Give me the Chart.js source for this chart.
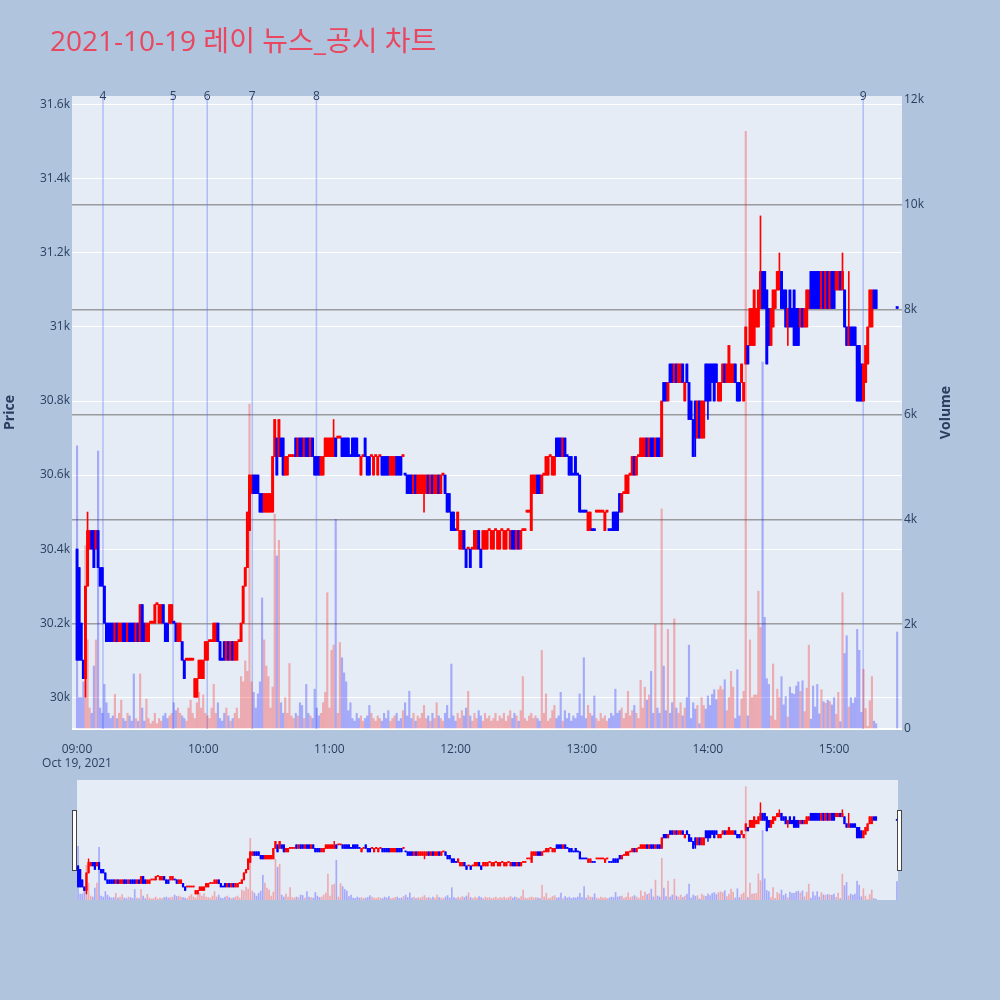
<!DOCTYPE html>
<html>
<head>
<meta charset="utf-8">
<script src="https://cdn.jsdelivr.net/npm/chart.js@4.4.1/dist/chart.umd.min.js"></script>
<style>
  html, body { margin: 0; padding: 0; background: #b0c4de; }
  #wrap { position: relative; width: 1000px; height: 1000px; }
  #main { position: absolute; left: 0; top: 0; }
  #slider { position: absolute; left: 0; top: 765px; }
</style>
</head>
<body>
<div id="wrap">
  <canvas id="main" width="1000" height="770"></canvas>
  <canvas id="slider" width="1000" height="150"></canvas>
</div>
<script>
const chartTitle = "2021-10-19 레이 뉴스_공시 차트";
const sessionDate = "Oct 19, 2021";

// one candle per minute from 09:00 (index = minute) up to 15:20, then the 15:30 closing auction
const auctionMinute = 390;

const opens = [
    30400, 30350, 30200, 30100, 30050, 30300, 30400, 30450, 30450, 30400,
    30450, 30350, 30350, 30300, 30200, 30200, 30200, 30200, 30150, 30200,
    30150, 30150, 30200, 30200, 30150, 30200, 30200, 30200, 30150, 30200,
    30150, 30250, 30200, 30150, 30150, 30200, 30200, 30200, 30250, 30200,
    30200, 30250, 30200, 30200, 30200, 30200, 30200, 30200, 30150, 30150,
    30150, 30100, 30100, 30100, 30100, 30100, 30000, 30000, 30050, 30050,
    30050, 30100, 30100, 30150, 30150, 30150, 30150, 30200, 30150, 30100,
    30150, 30100, 30150, 30100, 30150, 30100, 30100, 30150, 30150, 30200,
    30300, 30350, 30450, 30550, 30600, 30600, 30600, 30550, 30550, 30500,
    30500, 30500, 30500, 30500, 30650, 30700, 30650, 30700, 30700, 30600,
    30600, 30650, 30650, 30650, 30700, 30650, 30700, 30700, 30650, 30700,
    30700, 30650, 30700, 30650, 30650, 30650, 30600, 30600, 30650, 30650,
    30650, 30650, 30650, 30700, 30700, 30700, 30700, 30700, 30700, 30700,
    30650, 30700, 30700, 30700, 30650, 30600, 30650, 30700, 30650, 30650,
    30650, 30600, 30650, 30600, 30650, 30650, 30650, 30650, 30650, 30600,
    30600, 30600, 30650, 30650, 30650, 30650, 30600, 30600, 30600, 30600,
    30550, 30600, 30550, 30550, 30550, 30550, 30550, 30600, 30550, 30600,
    30550, 30550, 30600, 30550, 30600, 30600, 30550, 30550, 30500, 30500,
    30450, 30450, 30400, 30400, 30450, 30400, 30400, 30400, 30400, 30400,
    30400, 30450, 30400, 30400, 30400, 30400, 30450, 30400, 30400, 30450,
    30400, 30400, 30450, 30400, 30400, 30450, 30400, 30450, 30450, 30400,
    30450, 30400, 30450, 30450, 30500, 30500, 30450, 30550, 30550, 30600,
    30600, 30550, 30600, 30600, 30600, 30650, 30600, 30600, 30700, 30700,
    30700, 30650, 30700, 30650, 30650, 30650, 30600, 30650, 30600, 30600,
    30500, 30500, 30500, 30450, 30450, 30450, 30450, 30500, 30500, 30500,
    30500, 30450, 30500, 30450, 30450, 30500, 30500, 30500, 30550, 30500,
    30550, 30550, 30550, 30600, 30600, 30650, 30600, 30650, 30650, 30650,
    30650, 30700, 30650, 30700, 30700, 30650, 30700, 30700, 30650, 30850,
    30850, 30800, 30900, 30900, 30850, 30900, 30850, 30850, 30900, 30800,
    30900, 30850, 30800, 30750, 30800, 30700, 30800, 30700, 30700, 30900,
    30900, 30900, 30900, 30900, 30900, 30800, 30800, 30850, 30900, 30850,
    30850, 30850, 30850, 30900, 30850, 30850, 30850, 30800, 30900, 30950,
    30950, 30950, 30950, 31000, 31000, 31050, 31150, 31150, 31100, 31050,
    30950, 31000, 31050, 31100, 31100, 31150, 31100, 31100, 31000, 31100,
    31050, 31100, 31050, 31050, 31000, 31050, 31000, 31000, 31050, 31150,
    31150, 31150, 31150, 31150, 31050, 31150, 31050, 31150, 31050, 31150,
    31150, 31100, 31100, 31150, 31100, 31100, 31000, 30950, 31000, 31000,
    31000, 30950, 30950, 30900, 30800, 30850, 30900, 31000, 31000, 31100,
    31100,
    31050
];

const closes = [
    30100, 30100, 30100, 30050, 30300, 30450, 30450, 30400, 30350, 30450,
    30350, 30300, 30300, 30200, 30150, 30150, 30150, 30150, 30200, 30150,
    30200, 30200, 30150, 30150, 30200, 30150, 30150, 30150, 30200, 30150,
    30250, 30150, 30150, 30200, 30200, 30200, 30200, 30250, 30250, 30250,
    30250, 30200, 30150, 30150, 30250, 30250, 30200, 30150, 30200, 30200,
    30100, 30050, 30100, 30100, 30100, 30100, 30050, 30050, 30100, 30100,
    30100, 30150, 30150, 30150, 30150, 30200, 30200, 30150, 30100, 30100,
    30100, 30150, 30100, 30150, 30100, 30150, 30150, 30150, 30200, 30300,
    30350, 30500, 30600, 30600, 30550, 30550, 30550, 30500, 30500, 30550,
    30550, 30550, 30550, 30650, 30750, 30600, 30750, 30650, 30600, 30650,
    30650, 30650, 30650, 30650, 30650, 30700, 30650, 30650, 30700, 30650,
    30650, 30700, 30650, 30600, 30600, 30600, 30650, 30650, 30700, 30700,
    30700, 30700, 30700, 30650, 30700, 30700, 30650, 30650, 30650, 30650,
    30650, 30650, 30650, 30650, 30650, 30650, 30650, 30650, 30600, 30600,
    30650, 30650, 30650, 30650, 30650, 30600, 30600, 30600, 30600, 30650,
    30650, 30650, 30600, 30600, 30600, 30650, 30600, 30550, 30550, 30550,
    30600, 30550, 30600, 30600, 30600, 30600, 30600, 30550, 30600, 30550,
    30600, 30600, 30550, 30600, 30600, 30550, 30500, 30500, 30450, 30450,
    30450, 30500, 30450, 30450, 30400, 30350, 30400, 30350, 30400, 30450,
    30450, 30400, 30350, 30450, 30450, 30450, 30450, 30450, 30450, 30450,
    30450, 30450, 30450, 30450, 30450, 30450, 30450, 30400, 30400, 30450,
    30400, 30450, 30450, 30450, 30500, 30500, 30600, 30600, 30600, 30550,
    30550, 30600, 30600, 30650, 30650, 30650, 30650, 30650, 30650, 30650,
    30650, 30700, 30650, 30650, 30600, 30600, 30600, 30600, 30600, 30500,
    30500, 30500, 30500, 30500, 30500, 30450, 30450, 30500, 30500, 30500,
    30500, 30500, 30500, 30450, 30450, 30450, 30450, 30450, 30500, 30550,
    30550, 30600, 30600, 30600, 30650, 30600, 30650, 30650, 30700, 30700,
    30700, 30650, 30700, 30650, 30650, 30700, 30650, 30650, 30800, 30800,
    30800, 30850, 30850, 30850, 30900, 30850, 30900, 30900, 30850, 30850,
    30850, 30750, 30750, 30650, 30700, 30800, 30700, 30800, 30800, 30800,
    30800, 30800, 30850, 30800, 30850, 30850, 30850, 30900, 30850, 30900,
    30950, 30900, 30900, 30850, 30800, 30800, 30900, 30850, 31000, 30900,
    31050, 31050, 31100, 31050, 31100, 31150, 31050, 31050, 30900, 30950,
    31050, 31100, 31100, 31150, 31150, 31050, 31050, 31000, 31050, 31000,
    31000, 30950, 30950, 30950, 31050, 31000, 31050, 31100, 31100, 31050,
    31050, 31050, 31050, 31050, 31150, 31050, 31150, 31050, 31150, 31050,
    31050, 31150, 31150, 31100, 31150, 31000, 30950, 31000, 30950, 30950,
    30950, 30800, 30800, 30800, 30900, 30950, 31000, 31100, 31100, 31050,
    31050,
    31050
];

// wicks that reach beyond the candle body: [candle index, price]
const highWicks = [[5, 30500], [122, 30750], [325, 31300], [334, 31200], [364, 31200], [367, 31150]];
const lowWicks = [[4, 30000], [165, 30500], [294, 30650], [300, 30750], [338, 30950]];

const volumes = [
    5400, 600, 600, 900, 3500, 1700, 400, 300, 1200, 1700,
    5300, 400, 300, 850, 500, 300, 200, 250, 660, 200,
    300, 550, 200, 150, 300, 250, 150, 1050, 200, 150,
    1050, 400, 150, 570, 200, 100, 150, 300, 100, 200,
    150, 250, 300, 200, 250, 300, 500, 350, 400, 300,
    250, 200, 150, 400, 550, 300, 200, 500, 700, 400,
    650, 300, 250, 200, 400, 850, 300, 500, 200, 150,
    300, 400, 250, 150, 200, 300, 400, 200, 1000, 900,
    1300, 1100, 6200, 900, 700, 400, 670, 900, 2500, 1700,
    1200, 1000, 400, 800, 4100, 3300, 3600, 500, 300, 600,
    300, 1250, 250, 200, 300, 250, 500, 450, 200, 850,
    300, 250, 200, 760, 400, 250, 300, 500, 700, 2600,
    400, 1500, 1600, 4000, 300, 1650, 1360, 1070, 900, 350,
    500, 200, 150, 300, 200, 250, 150, 200, 250, 450,
    300, 200, 150, 250, 200, 150, 300, 200, 350, 150,
    200, 250, 300, 150, 200, 350, 500, 250, 720, 200,
    300, 150, 250, 200, 300, 450, 200, 250, 150, 300,
    200, 500, 250, 200, 150, 300, 450, 200, 1240, 250,
    150, 300, 200, 350, 250, 400, 720, 250, 150, 300,
    200, 350, 250, 150, 300, 200, 250, 150, 200, 300,
    150, 250, 200, 300, 150, 250, 350, 200, 300, 250,
    150, 350, 1000, 200, 150, 250, 300, 200, 250, 200,
    150, 1500, 300, 670, 150, 200, 350, 450, 200, 250,
    700, 150, 350, 200, 300, 150, 250, 200, 300, 670,
    250, 1360, 200, 450, 300, 250, 630, 200, 150, 300,
    200, 250, 150, 200, 300, 250, 760, 300, 350, 400,
    200, 300, 720, 250, 350, 450, 300, 200, 930, 400,
    800, 550, 650, 1100, 300, 2000, 400, 300, 4200, 1200,
    350, 1900, 300, 500, 2100, 400, 300, 500, 250, 400,
    600, 1600, 200, 500, 380, 450, 100, 600, 450, 380,
    630, 450, 660, 750, 560, 750, 820, 750, 940, 350,
    600, 1100, 800, 200, 1130, 250, 570, 720, 11400, 250,
    1700, 600, 650, 650, 2630, 1940, 7000, 2130, 960, 850,
    250, 1240, 170, 760, 600, 1000, 460, 620, 230, 800,
    680, 660, 820, 900, 720, 920, 330, 780, 1600, 190,
    820, 420, 850, 290, 750, 520, 490, 550, 520, 460,
    600, 280, 700, 140, 2600, 1440, 1780, 420, 600, 490,
    600, 1900, 1500, 320, 1140, 390, 50, 540, 1000, 150,
    100,
    1850
];

// disclosure / news times with their numbers
const newsTimes = ["09:12:20", "09:45:40", "10:01:55", "10:23:20", "10:53:50", "15:13:50"];
const newsLabels = ["4", "5", "6", "7", "8", "9"];

const hourTicks = [0, 60, 120, 180, 240, 300, 360];
const hourLabels = ["09:00", "10:00", "11:00", "12:00", "13:00", "14:00", "15:00"];
const priceTicks = [30000, 30200, 30400, 30600, 30800, 31000, 31200, 31400, 31600];
const volumeTicks = [0, 2000, 4000, 6000, 8000, 10000, 12000];

const priceMin = 29914, priceMax = 31624;
const volumeMax = 12076;
const xMin = -2.4, xMax = 392.3;

const UP = "#ff0000", DOWN = "#0000ff";
const UP_VOL = "rgba(255, 0, 0, 0.28)", DOWN_VOL = "rgba(0, 0, 255, 0.28)";
const NEWS_LINE = "rgba(90, 120, 245, 0.4)";
const TEXT = "#2a3f5f";
const FONT = '"Open Sans", "Noto Sans CJK KR", sans-serif';

const candleMinutes = opens.map((_, i) => (i < opens.length - 1 ? i : auctionMinute));

const highs = opens.map((o, i) => Math.max(o, closes[i]));
const lows = opens.map((o, i) => Math.min(o, closes[i]));
highWicks.forEach(([i, v]) => { highs[i] = v; });
lowWicks.forEach(([i, v]) => { lows[i] = v; });

// same rule as plotly: flat candles take direction from previous close
const rising = [];
closes.forEach((c, i) => {
    const o = opens[i];
    if (c !== o) rising.push(c > o);
    else if (i > 0 && c !== closes[i - 1]) rising.push(c > closes[i - 1]);
    else rising.push(i > 0 ? rising[i - 1] : true);
});

function toMinutes(t) {
    const [h, m, s] = t.split(":").map(Number);
    return (h - 9) * 60 + m + s / 60;
}

function buildDatasets(mini) {
    return [
        {
            label: "Volume",
            yAxisID: "yv",
            order: 3,
            grouped: false,
            barThickness: mini ? 1 : 1.5,
            data: volumes.map((v, i) => ({ x: candleMinutes[i], y: v })),
            backgroundColor: rising.map(r => (r ? UP_VOL : DOWN_VOL))
        },
        {
            label: "Wick",
            yAxisID: "y",
            order: 2,
            grouped: false,
            barThickness: mini ? 0.8 : 1,
            data: highs.map((h, i) => ({ x: candleMinutes[i], y: [lows[i], h] })),
            backgroundColor: rising.map(r => (r ? UP : DOWN))
        },
        {
            label: "Price",
            yAxisID: "y",
            order: 1,
            grouped: false,
            barThickness: mini ? 1.6 : 2.3,
            minBarLength: mini ? 1 : 2,
            data: opens.map((o, i) => ({ x: candleMinutes[i], y: [o, closes[i]] })),
            backgroundColor: rising.map(r => (r ? UP : DOWN))
        }
    ];
}

const plotBackground = {
    id: "plotBackground",
    beforeDraw(chart) {
        const { ctx, chartArea: a } = chart;
        ctx.save();
        ctx.fillStyle = "#e5ecf6";
        ctx.fillRect(a.left, a.top, a.right - a.left, a.bottom - a.top);
        ctx.restore();
    }
};

const newsLines = {
    id: "newsLines",
    beforeDatasetsDraw(chart) {
        const { ctx, chartArea: a, scales } = chart;
        ctx.save();
        ctx.strokeStyle = NEWS_LINE;
        ctx.lineWidth = 1.5;
        newsTimes.forEach(t => {
            const x = scales.x.getPixelForValue(toMinutes(t));
            ctx.beginPath();
            ctx.moveTo(x, a.top);
            ctx.lineTo(x, a.bottom);
            ctx.stroke();
        });
        ctx.restore();
    },
    afterDraw(chart) {
        const { ctx, chartArea: a, scales } = chart;
        ctx.save();
        ctx.fillStyle = TEXT;
        ctx.font = "12px " + FONT;
        ctx.textAlign = "center";
        ctx.textBaseline = "middle";
        newsTimes.forEach((t, i) => {
            ctx.fillText(newsLabels[i], scales.x.getPixelForValue(toMinutes(t)), a.top + 1);
        });
        ctx.restore();
    }
};

const textLayer = {
    id: "textLayer",
    afterDraw(chart) {
        const { ctx, chartArea: a } = chart;
        const mid = (a.top + a.bottom) / 2;
        ctx.save();
        ctx.fillStyle = "#e8475f";
        ctx.font = "28px " + FONT;
        ctx.textBaseline = "alphabetic";
        ctx.fillText(chartTitle, 50, 51);

        ctx.fillStyle = TEXT;
        ctx.font = "bold 14px " + FONT;
        ctx.textAlign = "center";
        ctx.textBaseline = "middle";
        ctx.translate(10, mid);
        ctx.rotate(-Math.PI / 2);
        ctx.fillText("Price", 0, 0);
        ctx.restore();

        ctx.save();
        ctx.fillStyle = TEXT;
        ctx.font = "bold 14px " + FONT;
        ctx.textAlign = "center";
        ctx.textBaseline = "middle";
        ctx.translate(946, mid);
        ctx.rotate(-Math.PI / 2);
        ctx.fillText("Volume", 0, 0);
        ctx.restore();
    }
};

const sliderHandles = {
    id: "sliderHandles",
    afterDraw(chart) {
        const { ctx, chartArea: a } = chart;
        ctx.save();
        ctx.fillStyle = "#ffffff";
        ctx.strokeStyle = "#444444";
        ctx.lineWidth = 1;
        [[a.left - 4.5, a.top + 30.5], [a.right - 0.5, a.top + 30.5]].forEach(([x, y]) => {
            ctx.fillRect(x, y, 4, 60);
            ctx.strokeRect(x, y, 4, 60);
        });
        ctx.restore();
    }
};

const tickFont = { family: FONT, size: 12 };

new Chart(document.getElementById("main"), {
    type: "bar",
    data: { datasets: buildDatasets(false) },
    options: {
        responsive: false,
        animation: false,
        layout: { padding: { top: 96, right: 44, left: 0, bottom: 0 } },
        plugins: {
            legend: { display: false },
            tooltip: { enabled: false },
            title: { display: false }
        },
        scales: {
            x: {
                type: "linear",
                min: xMin,
                max: xMax,
                offset: false,
                grid: { display: false },
                border: { display: false },
                afterBuildTicks: s => { s.ticks = hourTicks.map(v => ({ value: v })); },
                ticks: {
                    color: TEXT,
                    font: tickFont,
                    padding: 5,
                    maxRotation: 0,
                    autoSkip: false,
                    callback: (v, i) => (i === 0 ? [hourLabels[i], sessionDate] : hourLabels[i])
                },
                afterFit: s => { s.height = 41; }
            },
            y: {
                position: "left",
                min: priceMin,
                max: priceMax,
                grid: { color: "#ffffff", lineWidth: 1, drawTicks: false },
                border: { display: false },
                afterBuildTicks: s => { s.ticks = priceTicks.map(v => ({ value: v })); },
                ticks: {
                    color: TEXT,
                    font: tickFont,
                    padding: 2,
                    callback: v => v / 1000 + "k"
                },
                afterFit: s => { s.width = 72; }
            },
            yv: {
                position: "right",
                min: 0,
                max: volumeMax,
                grid: {
                    drawTicks: false,
                    color: c => (c.tick.value === 0 ? "#ffffff" : c.tick.value >= 12000 ? "rgba(0,0,0,0)" : "rgba(128,128,128,0.75)"),
                    lineWidth: c => (c.tick.value === 0 ? 2 : 1.6)
                },
                border: { display: false },
                afterBuildTicks: s => { s.ticks = volumeTicks.map(v => ({ value: v })); },
                ticks: {
                    color: TEXT,
                    font: tickFont,
                    padding: 2,
                    callback: v => (v === 0 ? "0" : v / 1000 + "k")
                },
                afterFit: s => { s.width = 54; }
            }
        }
    },
    plugins: [plotBackground, newsLines, textLayer]
});

new Chart(document.getElementById("slider"), {
    type: "bar",
    data: { datasets: buildDatasets(true) },
    options: {
        responsive: false,
        animation: false,
        layout: { padding: { top: 15, right: 102, left: 77, bottom: 15 } },
        plugins: {
            legend: { display: false },
            tooltip: { enabled: false }
        },
        scales: {
            x: { type: "linear", display: false, min: -0.5, max: 390.5, offset: false },
            y: { display: false, min: priceMin, max: priceMax },
            yv: { display: false, position: "right", min: 0, max: volumeMax }
        }
    },
    plugins: [plotBackground, sliderHandles]
});
</script>
</body>
</html>
